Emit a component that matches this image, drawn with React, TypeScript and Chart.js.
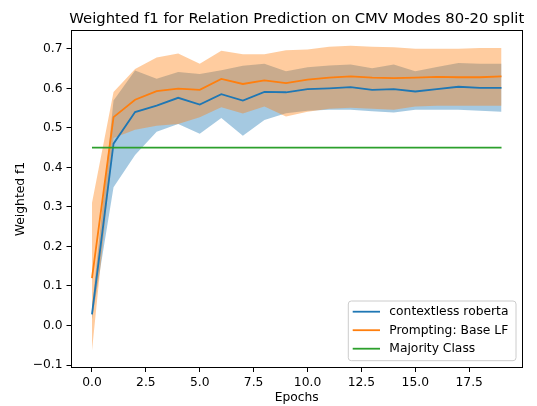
import React, { useEffect, useRef } from "react";
import { Chart, registerables } from "chart.js";

Chart.register(...registerables);

const titleText = "Weighted f1 for Relation Prediction on CMV Modes 80-20 split";
const xTitle = "Epochs";
const yTitle = "Weighted f1";
const seriesNames = ["contextless roberta", "Prompting: Base LF", "Majority Class"];

const epochs = [0, 1, 2, 3, 4, 5, 6, 7, 8, 9, 10, 11, 12, 13, 14, 15, 16, 17, 18, 19];

const robertaMean = [0.028, 0.46, 0.54, 0.556, 0.576, 0.559, 0.585, 0.569, 0.591, 0.59, 0.598, 0.6, 0.603, 0.596, 0.598, 0.592, 0.598, 0.604, 0.601, 0.601];
const robertaLower = [0.015, 0.35, 0.431, 0.49, 0.51, 0.485, 0.525, 0.48, 0.52, 0.537, 0.543, 0.546, 0.546, 0.542, 0.539, 0.546, 0.546, 0.546, 0.543, 0.541];
const robertaUpper = [0.045, 0.569, 0.645, 0.624, 0.641, 0.636, 0.646, 0.657, 0.662, 0.643, 0.653, 0.658, 0.66, 0.651, 0.66, 0.643, 0.654, 0.664, 0.662, 0.662];

const promptMean = [0.12, 0.527, 0.571, 0.593, 0.599, 0.596, 0.624, 0.611, 0.62, 0.613, 0.622, 0.627, 0.63, 0.627, 0.626, 0.627, 0.629, 0.628, 0.628, 0.63];
const promptLower = [-0.064, 0.474, 0.495, 0.505, 0.51, 0.527, 0.552, 0.536, 0.554, 0.529, 0.541, 0.548, 0.551, 0.548, 0.546, 0.554, 0.556, 0.556, 0.556, 0.556];
const promptUpper = [0.31, 0.591, 0.649, 0.678, 0.688, 0.662, 0.695, 0.686, 0.686, 0.696, 0.698, 0.705, 0.708, 0.705, 0.704, 0.7, 0.7, 0.7, 0.702, 0.702];

const majorityX = [0, 19];
const majorityY = [0.45, 0.45];

const xTicks = [0, 2.5, 5, 7.5, 10, 12.5, 15, 17.5];
const yTicks = [-0.1, 0, 0.1, 0.2, 0.3, 0.4, 0.5, 0.6, 0.7];

const BLUE = "#1f77b4";
const ORANGE = "#ff7f0e";
const GREEN = "#2ca02c";
const FONT = "'DejaVu Sans', sans-serif";

const pts = (xs: number[], ys: number[]) => xs.map((x, i) => ({ x, y: ys[i] }));

const framePlugin = {
  id: "frame",
  afterDatasetsDraw(chart: any) {
    const { ctx, chartArea } = chart;
    ctx.save();
    ctx.strokeStyle = "#000";
    ctx.lineWidth = 1;
    ctx.strokeRect(
      Math.round(chartArea.left) - 0.5,
      Math.round(chartArea.top) - 0.5,
      Math.round(chartArea.right) - Math.round(chartArea.left) + 1,
      Math.round(chartArea.bottom) - Math.round(chartArea.top) + 1
    );
    ctx.restore();
  },
};

const titlePlugin = {
  id: "mplTitle",
  afterDraw(chart: any) {
    const { ctx, chartArea } = chart;
    ctx.save();
    ctx.fillStyle = "#000";
    ctx.font = `14.8px ${FONT}`;
    ctx.textAlign = "center";
    ctx.textBaseline = "alphabetic";
    ctx.fillText(titleText, (chartArea.left + chartArea.right) / 2, chartArea.top - 8.5);
    ctx.restore();
  },
};

const legendPlugin = {
  id: "mplLegend",
  afterDraw(chart: any) {
    const { ctx, chartArea } = chart;
    const w = 167.7;
    const h = 59.7;
    const x = chartArea.right - 6 - w;
    const y = chartArea.bottom - 6.3 - h;
    const r = 3;
    ctx.save();
    ctx.beginPath();
    ctx.moveTo(x + r, y);
    ctx.lineTo(x + w - r, y);
    ctx.arcTo(x + w, y, x + w, y + r, r);
    ctx.lineTo(x + w, y + h - r);
    ctx.arcTo(x + w, y + h, x + w - r, y + h, r);
    ctx.lineTo(x + r, y + h);
    ctx.arcTo(x, y + h, x, y + h - r, r);
    ctx.lineTo(x, y + r);
    ctx.arcTo(x, y, x + r, y, r);
    ctx.closePath();
    ctx.fillStyle = "rgba(255,255,255,0.8)";
    ctx.fill();
    ctx.strokeStyle = "#cccccc";
    ctx.lineWidth = 1;
    ctx.stroke();
    const colors = [BLUE, ORANGE, GREEN];
    ctx.font = `12.3px ${FONT}`;
    ctx.textBaseline = "middle";
    ctx.textAlign = "left";
    seriesNames.forEach((name, i) => {
      const cy = y + 10.7 + i * 18.5;
      ctx.strokeStyle = colors[i];
      ctx.lineWidth = 1.8;
      ctx.beginPath();
      ctx.moveTo(x + 4.4, cy);
      ctx.lineTo(x + 31.7, cy);
      ctx.stroke();
      ctx.fillStyle = "#000";
      ctx.fillText(name, x + 41, cy + 0.5);
    });
    ctx.restore();
  },
};

export default function App() {
  const ref = useRef<HTMLCanvasElement | null>(null);

  useEffect(() => {
    if (!ref.current) return;
    const band = (data: any, color: string, fill: any, order: number) => ({
      data,
      borderWidth: 0,
      borderColor: "rgba(0,0,0,0)",
      backgroundColor: color,
      pointRadius: 0,
      fill,
      order,
      tension: 0,
    });
    const line = (label: string, data: any, color: string, order: number) => ({
      label,
      data,
      borderColor: color,
      backgroundColor: color,
      borderWidth: 1.8,
      pointRadius: 0,
      fill: false,
      order,
      tension: 0,
    });
    const chart = new Chart(ref.current, {
      type: "line",
      data: {
        datasets: [
          band(pts(epochs, robertaLower), "rgba(31,119,180,0.4)", false, 10),
          band(pts(epochs, robertaUpper), "rgba(31,119,180,0.4)", 0, 10),
          band(pts(epochs, promptLower), "rgba(255,127,14,0.4)", false, 9),
          band(pts(epochs, promptUpper), "rgba(255,127,14,0.4)", 2, 9),
          line(seriesNames[0], pts(epochs, robertaMean), BLUE, 3),
          line(seriesNames[1], pts(epochs, promptMean), ORANGE, 2),
          line(seriesNames[2], pts(majorityX, majorityY), GREEN, 1),
        ] as any,
      },
      options: {
        animation: false,
        responsive: false,
        events: [],
        layout: { padding: { left: 13, top: 31, right: 15, bottom: 0 } },
        plugins: {
          legend: { display: false },
          tooltip: { enabled: false },
          title: { display: false },
        },
        scales: {
          x: {
            type: "linear",
            min: -0.95,
            max: 19.95,
            afterBuildTicks: (s: any) => {
              s.ticks = xTicks.map((v) => ({ value: v }));
            },
            afterFit: (s: any) => {
              s.height = 39;
            },
            ticks: {
              autoSkip: false,
              maxRotation: 0,
              color: "#000",
              padding: 3,
              font: { family: FONT, size: 12.3 },
              callback: (v: any) => Number(v).toFixed(1),
            },
            grid: { drawOnChartArea: false, drawTicks: true, tickLength: 5, color: "#000", tickWidth: 1 },
            border: { display: false },
            title: {
              display: true,
              text: xTitle,
              color: "#000",
              font: { family: FONT, size: 12.3 },
              padding: { top: 0, bottom: 1 },
            },
          },
          y: {
            type: "linear",
            min: -0.105,
            max: 0.745,
            afterBuildTicks: (s: any) => {
              s.ticks = yTicks.map((v) => ({ value: v }));
            },
            afterFit: (s: any) => {
              s.width = 58.5;
            },
            ticks: {
              color: "#000",
              padding: 4,
              font: { family: FONT, size: 12.3 },
              callback: (v: any) => {
                const n = Number(v);
                return (n < -1e-9 ? "\u2212" : "") + Math.abs(n).toFixed(1);
              },
            },
            grid: { drawOnChartArea: false, drawTicks: true, tickLength: 5, color: "#000", tickWidth: 1 },
            border: { display: false },
            title: {
              display: true,
              text: yTitle,
              color: "#000",
              font: { family: FONT, size: 12.3 },
              padding: { top: 0, bottom: 0 },
            },
          },
        },
      } as any,
      plugins: [framePlugin, titlePlugin, legendPlugin],
    });
    return () => chart.destroy();
  }, []);

  return (
    <div style={{ position: "absolute", left: 0, top: 0, width: 537, height: 406, background: "#fff" }}>
      <canvas ref={ref} width={537} height={406} style={{ width: 537, height: 406, display: "block" }} />
    </div>
  );
}
